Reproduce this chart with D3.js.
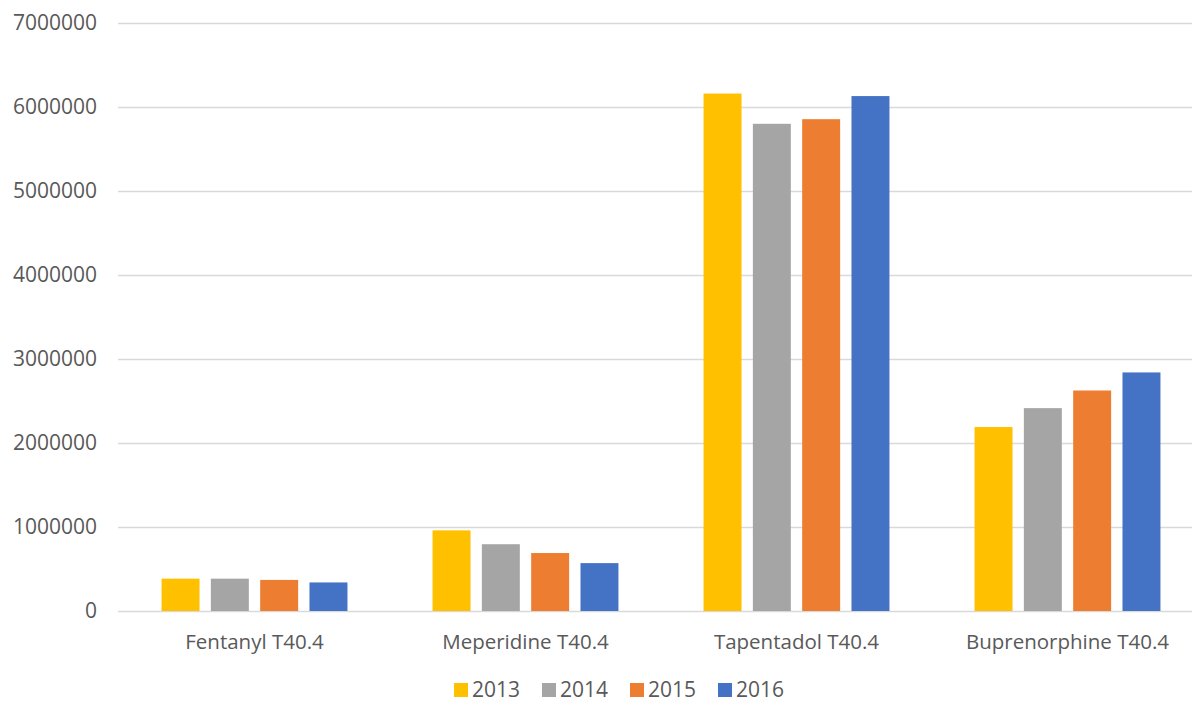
<!DOCTYPE html>
<html>
<head>
  <meta charset="utf-8">
  <title>Opioid bars</title>
  <script src="https://d3js.org/d3.v7.min.js"></script>
  <style>
  body { margin: 0; background: white; }
  text { font-family: "Open Sans", sans-serif; fill: #595959; }
  </style>
</head>
<body>
<div id="chart"></div>
<script>

// data
var drugs = ["Fentanyl T40.4", "Meperidine T40.4", "Tapentadol T40.4", "Buprenorphine T40.4"];
var years = ["2013", "2014", "2015", "2016"];
var v2013 = [385000, 960000, 6160000, 2190000];
var v2014 = [385000, 795000, 5800000, 2415000];
var v2015 = [370000, 690000, 5855000, 2625000];
var v2016 = [340000, 570000, 6130000, 2840000];
var yTicks = [0, 1000000, 2000000, 3000000, 4000000, 5000000, 6000000, 7000000];
var colors = ["#FFC000", "#A5A5A5", "#ED7D31", "#4472C4"];

var series = [v2013, v2014, v2015, v2016];

var width = 1192, height = 705;

var svg = d3.select("#chart").append("svg")
  .attr("width", width)
  .attr("height", height);

var y = d3.scaleLinear()
  .domain([0, 7000000])
  .range([611, 23]);

var x0 = d3.scaleBand()
  .domain(drugs)
  .range([119, 1203])
  .paddingInner(0.314)
  .paddingOuter(0.157);

var x1 = d3.scaleBand()
  .domain(years)
  .range([0, x0.bandwidth()])
  .paddingInner(0.23);

// gridlines
svg.append("g")
  .selectAll("line")
  .data(yTicks)
  .enter().append("line")
    .attr("x1", 118)
    .attr("x2", width)
    .attr("y1", function(d) { return Math.round(y(d)) + 0.5; })
    .attr("y2", function(d) { return Math.round(y(d)) + 0.5; })
    .style("stroke", "#D9D9D9")
    .style("stroke-width", 1.5);

// y labels
svg.append("g")
  .selectAll("text")
  .data(yTicks)
  .enter().append("text")
    .attr("x", 97)
    .attr("y", function(d) { return y(d); })
    .attr("dy", "0.35em")
    .attr("text-anchor", "end")
    .style("font-size", "21px")
    .text(function(d) { return d3.format("d")(d); });

// bars
var groups = svg.append("g")
  .selectAll("g")
  .data(drugs)
  .enter().append("g")
    .attr("transform", function(d) { return "translate(" + x0(d) + ",0)"; });

groups.selectAll("rect")
  .data(function(d, i) {
    return years.map(function(yr, j) { return {year: yr, value: series[j][i], c: colors[j]}; });
  })
  .enter().append("rect")
    .attr("x", function(d) { return x1(d.year); })
    .attr("width", x1.bandwidth())
    .attr("y", function(d) { return y(d.value); })
    .attr("height", function(d) { return y(0) - y(d.value); })
    .attr("fill", function(d) { return d.c; });

// category labels
svg.append("g")
  .selectAll("text")
  .data(drugs)
  .enter().append("text")
    .attr("x", function(d) { return x0(d) + x0.bandwidth() / 2; })
    .attr("y", 642)
    .attr("dy", "0.35em")
    .attr("text-anchor", "middle")
    .style("font-size", "20.5px")
    .text(function(d) { return d; });

// legend
var legend = svg.append("g")
  .selectAll("g")
  .data(years)
  .enter().append("g")
    .attr("transform", function(d, i) { return "translate(" + (454 + i * 88) + ",690)"; });

legend.append("rect")
  .attr("x", 0)
  .attr("y", -7)
  .attr("width", 14)
  .attr("height", 14)
  .attr("fill", function(d, i) { return colors[i]; });

legend.append("text")
  .attr("x", 18)
  .attr("y", 0)
  .attr("dy", "0.35em")
  .style("font-size", "21px")
  .text(function(d) { return d; });

</script>
</body>
</html>
